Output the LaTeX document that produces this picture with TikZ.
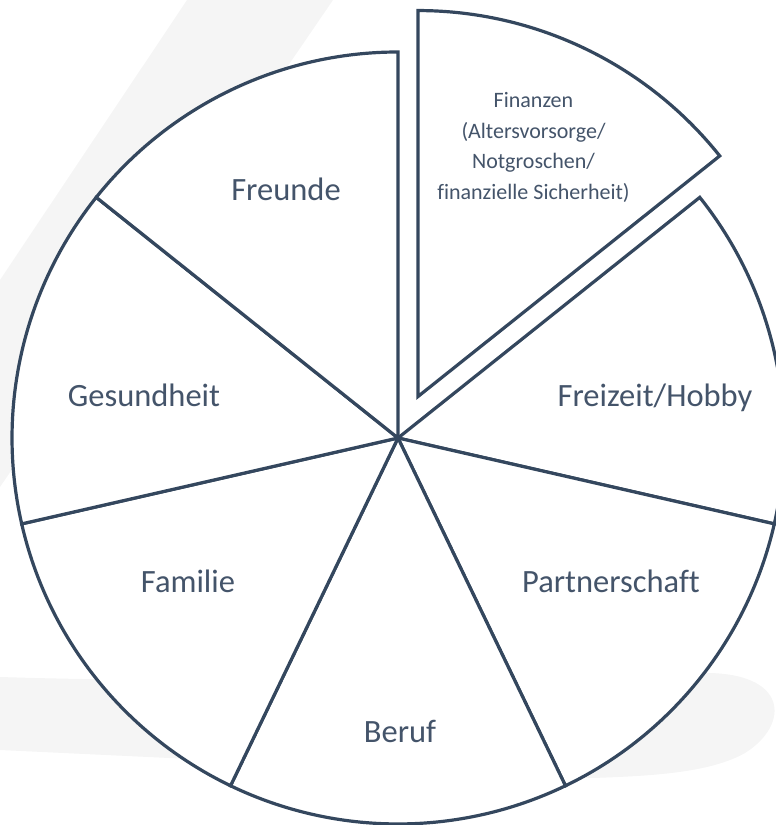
\documentclass[tikz,border=0pt]{standalone}
\usepackage{fontspec}
\setmainfont{Carlito}[Ligatures=NoCommon]
\definecolor{linec}{HTML}{34475E}
\definecolor{textc}{HTML}{44546A}
\definecolor{bgshape}{HTML}{F5F5F5}
\begin{document}
\begin{tikzpicture}[x=1pt,y=1pt,
  sector/.style={draw=linec,line width=3.2pt,fill=white,line join=miter},
  lbl/.style={text=textc,font=\fontsize{32.5}{38}\selectfont,anchor=base,inner sep=0pt},
  finlbl/.style={text=textc,font=\fontsize{22}{26}\selectfont,anchor=base,inner sep=0pt}]
\useasboundingbox (0,0) rectangle (776,825);
% faint background shapes
\fill[bgshape] (187,825) -- (333,825) -- (0,338) -- (0,545) -- cycle;
\fill[bgshape] (0,148) .. controls (250,140) and (520,150) .. (700,152)
  .. controls (790,154) and (790,100) .. (745,72)
  .. controls (710,52) and (650,49) .. (593,47) -- (0,75) -- cycle;
% pie
\begin{scope}[shift={(398,387)}]
  \foreach \k in {1,...,6}{
    \draw[sector] (0,0) -- ({90-(\k+1)*360/7}:386pt)
      arc[start angle={90-(\k+1)*360/7}, end angle={90-\k*360/7}, radius=386pt] -- cycle;
  }
  \begin{scope}[shift={(64.2857:46pt)}]
    \draw[sector] (0,0) -- ({90-360/7}:386pt)
      arc[start angle={90-360/7}, end angle=90, radius=386pt] -- cycle;
  \end{scope}
\end{scope}
% labels
\node[lbl] (freunde) at (286,624) {Freunde};
\node[lbl] (gesund) at (144,418) {Gesundheit};
\node[lbl] (freizeit) at (655,418) {Freizeit/Hobby};
\node[lbl] (familie) at (188,232) {Familie};
\node[lbl] (partner) at (611,232) {Partnerschaft};
\node[lbl] (beruf) at (400,82) {Beruf};
\node[finlbl] (fin1) at (533.5,717) {Finanzen};
\node[finlbl] (fin2) at (533.5,686.5) {(Altersvorsorge/};
\node[finlbl] (fin3) at (533.5,656) {Notgroschen/};
\node[finlbl] (fin4) at (533.5,625.5) {finanzielle Sicherheit)};
\end{tikzpicture}
\end{document}
